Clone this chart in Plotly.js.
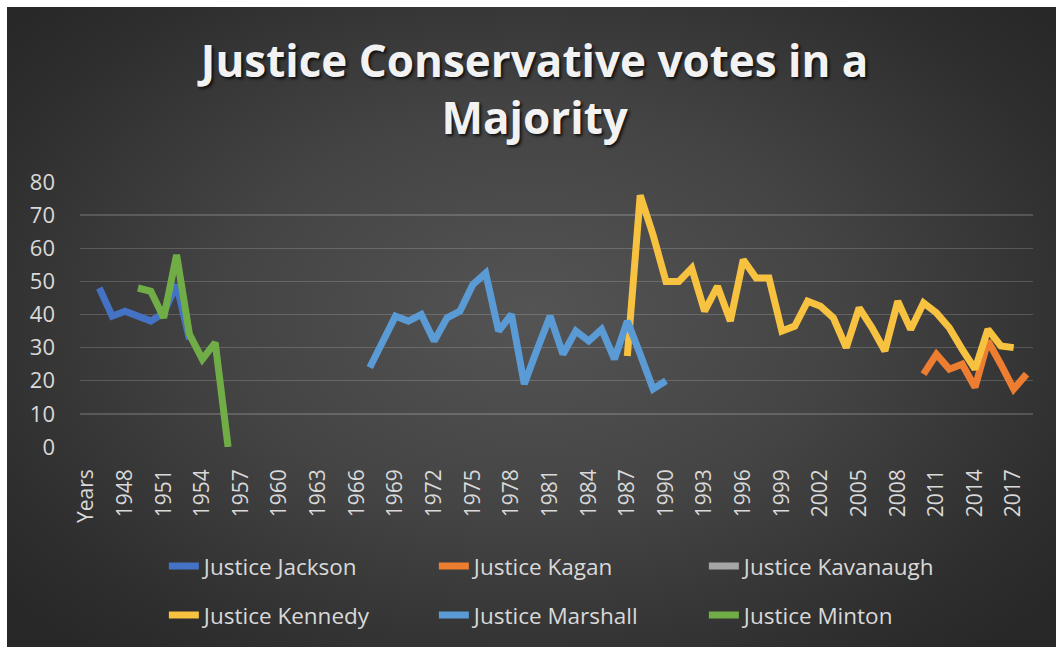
<!DOCTYPE html>
<html>
<head>
<meta charset="utf-8">
<script src="https://cdn.plot.ly/plotly-3.0.1.min.js"></script>
<style>
  html, body { margin: 0; padding: 0; background: #ffffff; width: 1056px; height: 647px; overflow: hidden; }
  #chart {
    position: absolute; left: 7px; top: 7px; width: 1049px; height: 640px;
    background: radial-gradient(ellipse 65% 70% at 50% 48%, #545454 0%, #444444 45%, #2e2e2e 85%, #282828 100%);
  }
</style>
</head>
<body>
<div id="chart"></div>
<script>
const categories = ['Years',
  '1946','1947','1948','1949','1950','1951','1952','1953','1954','1955',
  '1956','1957','1958','1959','1960','1961','1962','1963','1964','1965',
  '1966','1967','1968','1969','1970','1971','1972','1973','1974','1975',
  '1976','1977','1978','1979','1980','1981','1982','1983','1984','1985',
  '1986','1987','1988','1989','1990','1991','1992','1993','1994','1995',
  '1996','1997','1998','1999','2000','2001','2002','2003','2004','2005',
  '2006','2007','2008','2009','2010','2011','2012','2013','2014','2015',
  '2016','2017','2018'];

const jacksonYears = ['1946','1947','1948','1949','1950','1951','1952','1953'];
const jacksonVotes = [48, 39.5, 41, 39.5, 38, 40.5, 49, 32.5];

const kaganYears = ['2010','2011','2012','2013','2014','2015','2016','2017','2018'];
const kaganVotes = [22, 28, 23.5, 25, 18, 32, 25, 17.5, 22];

const kavanaughYears = ['2018'];
const kavanaughVotes = [null];

const kennedyYears = ['1987','1988','1989','1990','1991','1992','1993','1994','1995','1996',
  '1997','1998','1999','2000','2001','2002','2003','2004','2005','2006',
  '2007','2008','2009','2010','2011','2012','2013','2014','2015','2016','2017'];
const kennedyVotes = [27.5, 76, 64, 50, 50, 54, 41, 48.5, 38, 56.5,
  51, 51, 35, 36.5, 44, 42.5, 39, 30, 42, 36,
  29, 44, 35.5, 43.5, 40.5, 36, 29.5, 23.5, 35.5, 30.5, 30];

const marshallYears = ['1967','1968','1969','1970','1971','1972','1973','1974','1975','1976',
  '1977','1978','1979','1980','1981','1982','1983','1984','1985','1986',
  '1987','1988','1989','1990'];
const marshallVotes = [24, 32, 39.5, 38, 40, 32, 39, 41, 49, 52.5,
  35, 40, 19, 29.5, 39.5, 28, 35, 32, 35.5, 26.5,
  38, 28, 17.5, 20];

const mintonYears = ['1949','1950','1951','1952','1953','1954','1955','1956'];
const mintonVotes = [48, 47, 39, 58, 34, 26.5, 31.5, 0];

const seriesNames = ['Justice Jackson','Justice Kagan','Justice Kavanaugh','Justice Kennedy','Justice Marshall','Justice Minton'];
const seriesColors = ['#4472C4','#ED7D31','#A5A5A5','#F7C23F','#5B9BD5','#70AD47'];

const xs = [jacksonYears, kaganYears, kavanaughYears, kennedyYears, marshallYears, mintonYears];
const ys = [jacksonVotes, kaganVotes, kavanaughVotes, kennedyVotes, marshallVotes, mintonVotes];

const traces = seriesNames.map((name, i) => ({
  type: 'scatter',
  mode: 'lines',
  name: name,
  x: xs[i],
  y: ys[i],
  line: { color: seriesColors[i], width: 7, shape: 'linear' },
  legend: i < 3 ? 'legend' : 'legend2',
  hoverinfo: 'x+y+name'
}));

const yTickFont = { family: 'Open Sans, sans-serif', size: 22, color: '#D9D9D9' };
const xTickFont = { family: 'Open Sans, sans-serif', size: 21, color: '#D9D9D9' };
const legendCommon = {
  orientation: 'h',
  bgcolor: 'rgba(0,0,0,0)',
  font: { family: 'Open Sans, sans-serif', size: 22.5, color: '#D9D9D9' },
  entrywidth: 225,
  entrywidthmode: 'pixels',
  xref: 'paper', yref: 'paper',
  x: 0.088, xanchor: 'left',
  yanchor: 'middle',
  traceorder: 'normal'
};

const layout = {
  width: 1049,
  height: 640,
  paper_bgcolor: 'rgba(0,0,0,0)',
  plot_bgcolor: 'rgba(0,0,0,0)',
  margin: { l: 73, r: 23, t: 175, b: 200, autoexpand: false },
  title: {
    text: 'Justice Conservative votes in a<br>Majority',
    font: { family: 'Open Sans, sans-serif', size: 44, color: '#F2F2F2', weight: 'bold',
            shadow: '2px 2px 3px rgba(0,0,0,0.75)' },
    x: 0.503, xanchor: 'center',
    xref: 'container',
    y: 0.891, yanchor: 'top', yref: 'container'
  },
  xaxis: {
    type: 'category',
    categoryorder: 'array',
    categoryarray: categories,
    range: [-0.5, categories.length - 0.5],
    tickmode: 'linear', tick0: 0, dtick: 3,
    tickangle: -90,
    tickfont: xTickFont,
    showgrid: false,
    zeroline: false,
    showline: false,
    ticks: '',
    ticklabelstandoff: 17,
    fixedrange: true
  },
  yaxis: {
    range: [0, 80],
    dtick: 10,
    tickfont: yTickFont,
    showgrid: true,
    gridcolor: 'rgba(255,255,255,0.17)',
    gridwidth: 1.3,
    zeroline: false,
    showline: false,
    ticks: '',
    ticklabelstandoff: 24,
    fixedrange: true
  },
  legend: Object.assign({}, legendCommon, { y: -0.45 }),
  legend2: Object.assign({}, legendCommon, { y: -0.635 }),
  showlegend: true
};

Plotly.newPlot('chart', traces, layout, { displayModeBar: false, staticPlot: true });
</script>
</body>
</html>
